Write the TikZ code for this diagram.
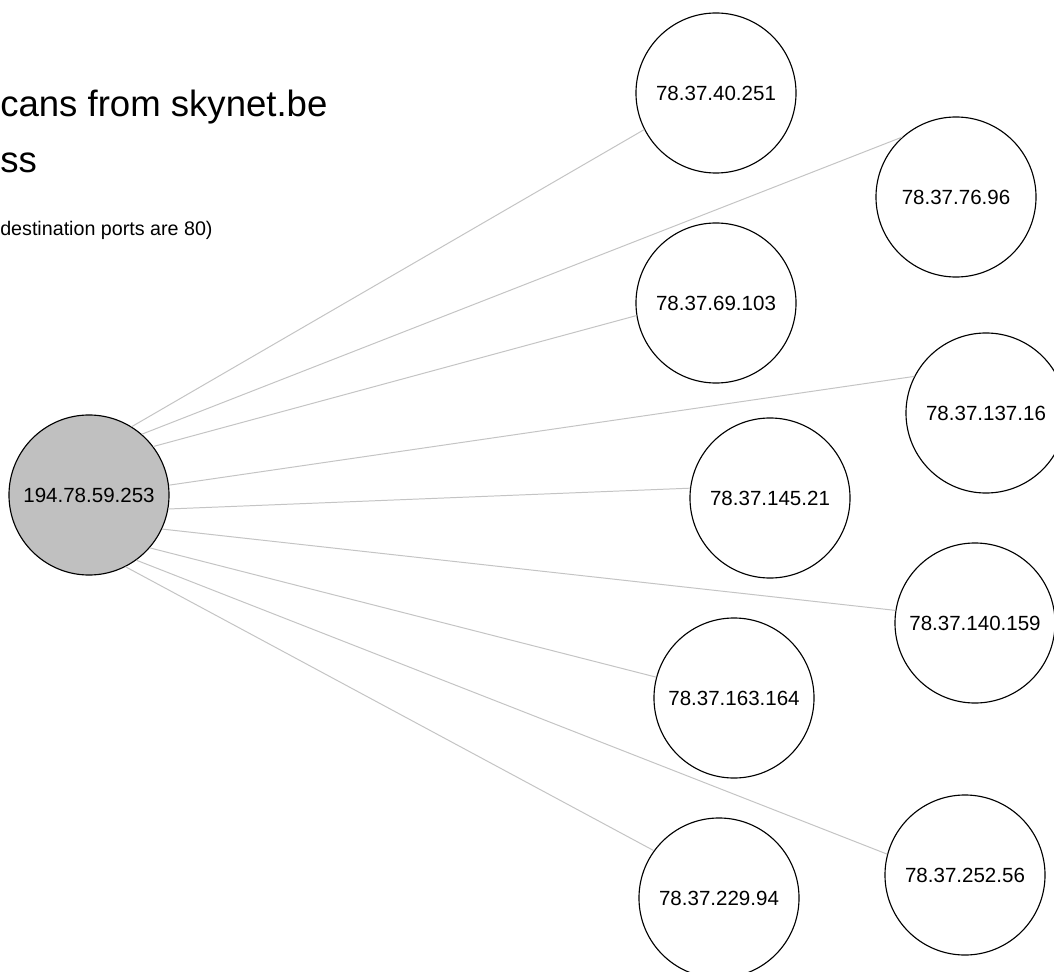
\documentclass[tikz,border=0pt]{standalone}
\usepackage{fontspec}
\setmainfont{Liberation Sans}
\usetikzlibrary{positioning}
\definecolor{ScanGrey}{RGB}{192,192,192}
\definecolor{LinkGrey}{RGB}{196,196,196}

\begin{document}
\begin{tikzpicture}[
        x=0.025cm, y=-0.025cm,
        host/.style={
            circle,
            draw=black,
            line width=0.8pt,
            fill=white,
            minimum size=4cm,
            inner sep=0pt,
            font=\fontsize{14.6}{17}\selectfont
        },
        scanner/.style={
            host,
            fill=ScanGrey
        },
        link/.style={
            draw=LinkGrey,
            line width=0.7pt
        },
        heading/.style={
            anchor=base west,
            inner sep=0pt,
            font=\fontsize{26}{30}\selectfont
        },
        note/.style={
            anchor=base west,
            inner sep=0pt,
            font=\fontsize{14}{16}\selectfont
        }
    ]

    \clip (0,0) rectangle (1054,972);
    \fill[white] (0,0) rectangle (1054,972);

    % Title (cut at the left edge)
    \node[heading] (head1) at (0,117) {cans from skynet.be};
    \node[heading] (head2) at (0,173) {ss};
    \node[note] (ports) at (0,236) {destination ports are 80)};

    % Scanning host
    \node[scanner] (src) at (89,495) {194.78.59.253};

    % Scanned hosts
    \node[host] (h40) at (716,93) {78.37.40.251};
    \node[host] (h76) at (956,197) {78.37.76.96};
    \node[host] (h69) at (716,303) {78.37.69.103};
    \node[host] (h137) at (986,413) {78.37.137.16};
    \node[host] (h145) at (770,498) {78.37.145.21};
    \node[host] (h140) at (975,623) {78.37.140.159};
    \node[host] (h163) at (734,698) {78.37.163.164};
    \node[host] (h252) at (965,875) {78.37.252.56};
    \node[host] (h229) at (719,898) {78.37.229.94};

    \draw[link] (src.58) -- (h40.207);
    \draw[link] (src.49) -- (h76.132);
    \draw[link] (src.37) -- (h69.189);
    \draw[link] (src.7) -- (h137.153);
    \draw[link] (src.-10) -- (h145.173);
    \draw[link] (src.-25) -- (h140.171);
    \draw[link] (src.-41) -- (h163.165);
    \draw[link] (src.-54) -- (h252.165);
    \draw[link] (src.-63) -- (h229.144);

\end{tikzpicture}
\end{document}
